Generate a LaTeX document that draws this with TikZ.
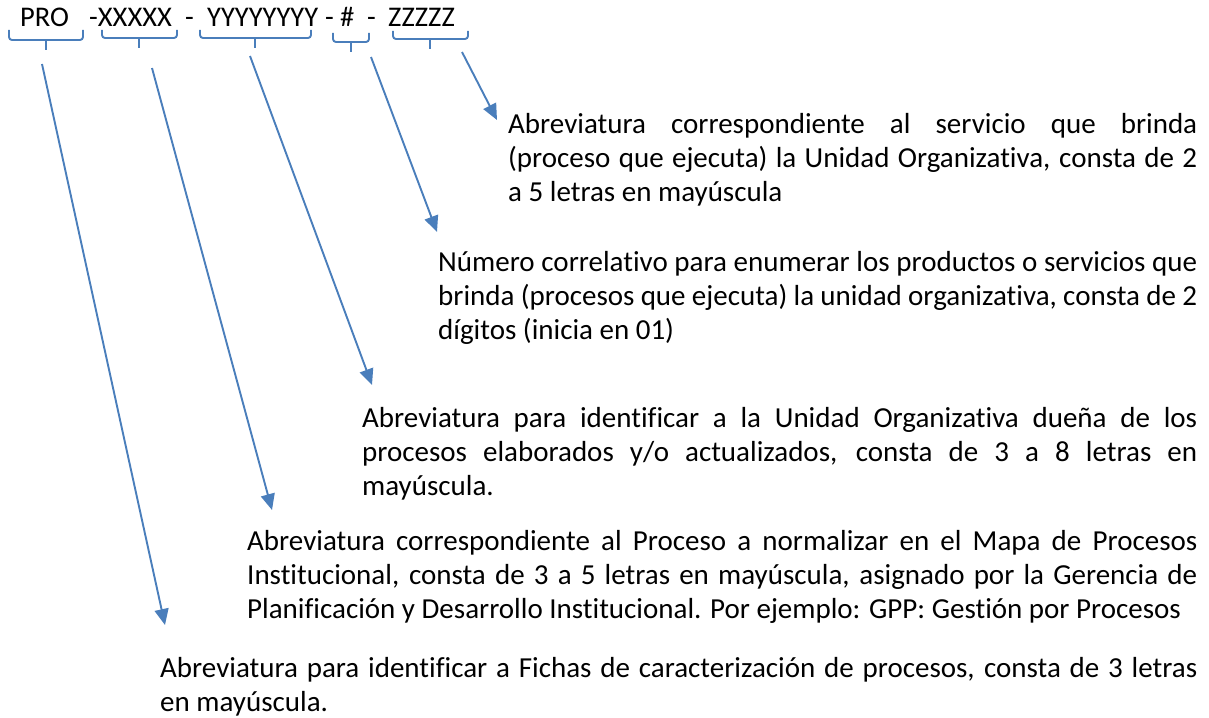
\documentclass[tikz,border=0pt]{standalone}
\usepackage{fontspec}
\setmainfont{Carlito}[Ligatures=NoCommon]
\usetikzlibrary{arrows.meta}
\definecolor{brblue}{HTML}{4A7EBB}
\begin{document}
\begin{tikzpicture}[x=1pt,y=-1pt,
 lbl/.style={anchor=base west,inner sep=0pt,font=\fontsize{28.5}{34}\selectfont},
 desc/.style={anchor=north west,inner sep=0pt,align=justify,text width=#1,font=\fontsize{29}{34}\selectfont},
 brc/.style={draw=brblue,line width=1.9pt,rounded corners=3pt},
 arr/.style={draw=brblue,line width=1.9pt,-{Triangle[length=16pt,width=14pt]}}]
\useasboundingbox (0,0) rectangle (1209,717);
% top code
\node[lbl] (pro) at (20,27) {PRO};
\node[lbl] (xx) at (89,27) {-XXXXX};
\node[lbl] (d1) at (185,27) {-};
\node[lbl] (yy) at (207,27) {YYYYYYYY};
\node[lbl] (d2) at (325,27) {-};
\node[lbl] (hh) at (340,27) {\#};
\node[lbl] (d3) at (367,27) {-};
\node[lbl] (zz) at (388,27) {ZZZZZ};
% braces
\draw[brc] (9,30) -- (9,40) -- (83,40) -- (83,30);
\draw[brc] (46,40) -- (46,50);
\draw[brc] (102,30) -- (102,38) -- (177,38) -- (177,30);
\draw[brc] (139,38) -- (139,48);
\draw[brc] (200,30) -- (200,38) -- (311,38) -- (311,30);
\draw[brc] (255,38) -- (255,48);
\draw[brc] (333,33) -- (333,42) -- (369,42) -- (369,33);
\draw[brc] (351,42) -- (351,52);
\draw[brc] (393,31) -- (393,39) -- (468,39) -- (468,31);
\draw[brc] (430,39) -- (430,49);
% descriptions
\node[desc=689pt] (t5) at (508,109.2) {\strut Abreviatura correspondiente al servicio que brinda\linebreak (proceso que ejecuta) la Unidad Organizativa, consta de 2\linebreak a 5 letras en mayúscula};
\node[desc=759pt] (t4) at (438,247.2) {\strut Número correlativo para enumerar los productos o servicios que\linebreak brinda (procesos que ejecuta) la unidad organizativa, consta de 2\linebreak dígitos (inicia en 01)};
\node[desc=835pt] (t3) at (362,403.2) {\strut Abreviatura para identificar a la Unidad Organizativa dueña de los\linebreak procesos elaborados y/o actualizados, consta de 3 a 8 letras en\linebreak mayúscula.};
\node[desc=950pt] (t2) at (247,526.2) {\strut Abreviatura correspondiente al Proceso a normalizar en el Mapa de Procesos\linebreak Institucional, consta de 3 a 5 letras en mayúscula, asignado por la Gerencia de\linebreak Planificación y Desarrollo Institucional. Por ejemplo: GPP: Gestión por Procesos};
\node[desc=1037pt] (t1) at (160,653.2) {\strut Abreviatura para identificar a Fichas de caracterización de procesos, consta de 3 letras\linebreak en mayúscula.};
% arrows
\coordinate (s1) at (42,64);   \coordinate (e1) at (165,625);
\coordinate (s2) at (152,68);  \coordinate (e2) at (272,510);
\coordinate (s3) at (250,56);  \coordinate (e3) at (372,385);
\coordinate (s4) at (371,57);  \coordinate (e4) at (437,232);
\coordinate (s5) at (462,52);  \coordinate (e5) at (497,120);
\draw[arr] (s1) -- (e1);
\draw[arr] (s2) -- (e2);
\draw[arr] (s3) -- (e3);
\draw[arr] (s4) -- (e4);
\draw[arr] (s5) -- (e5);
\end{tikzpicture}
\end{document}
